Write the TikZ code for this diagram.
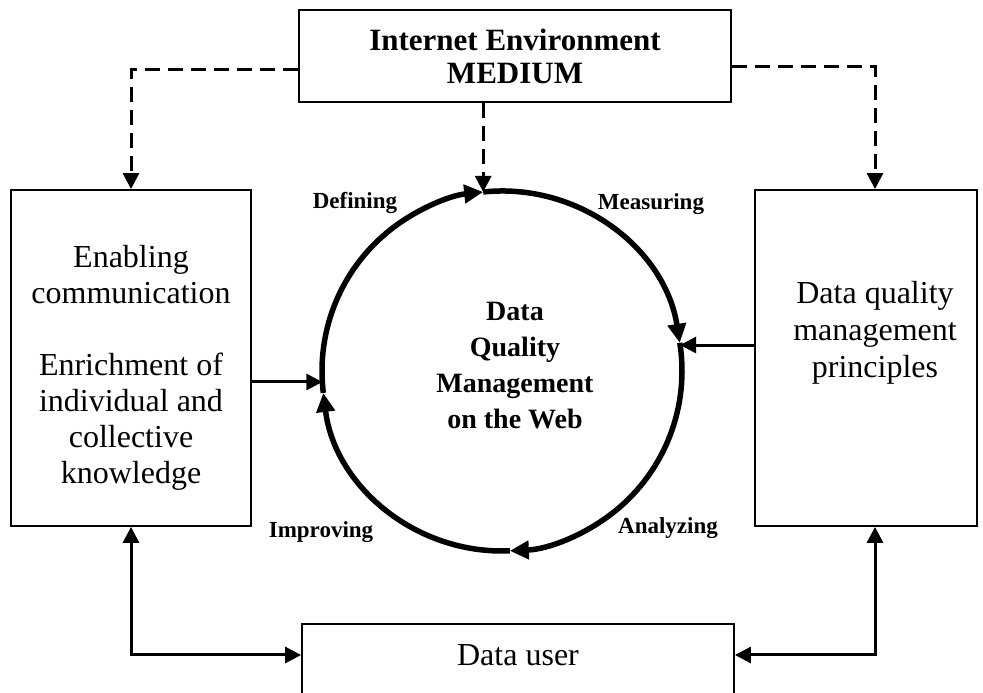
\documentclass[tikz,border=0pt]{standalone}
\usepackage{fontspec}
\setmainfont{Liberation Serif}
\usetikzlibrary{arrows.meta}
\tikzstyle{block}=[draw, line width=1.8pt, inner sep=0pt]
\tikzstyle{body text}=[align=center, font=\fontsize{32}{36}\selectfont]
\tikzstyle{stage label}=[font=\bfseries\fontsize{23}{26}\selectfont]
\tikzstyle{feed}=[line width=3pt, -{Triangle[length=16pt, width=16pt]}]
\tikzstyle{medium feed}=[feed, dash pattern=on 15pt off 8pt]
\tikzstyle{both feed}=[line width=3pt, {Triangle[length=16pt, width=16pt]}-{Triangle[length=16pt, width=16pt]}]
\tikzstyle{cycle arc}=[line width=5.5pt, -{Triangle[length=19pt, width=18pt]}]

\begin{document}
\begin{tikzpicture}[x=1pt, y=1pt]
      \useasboundingbox (0,0) rectangle (983,693);
      \clip (0,0) rectangle (983,693);
      % boxes
      \node[block, minimum width=432pt, minimum height=92pt, align=center,
        font=\bfseries\fontsize{31}{33}\selectfont] (medium) at (515,637)
        {Internet Environment\\MEDIUM};
      \node[block, minimum width=240pt, minimum height=336pt] (enable) at (131,335) {};
      \node[body text] (enableText) at (131,325)
        {Enabling\\communication\\[36pt]Enrichment of\\individual and\\collective\\knowledge};
      \node[block, minimum width=222pt, minimum height=336pt] (principle) at (866,335) {};
      \node[body text, font=\fontsize{32}{37}\selectfont] (principleText) at (875,360)
        {Data quality\\management\\principles};
      \node[block, minimum width=432pt, minimum height=100pt, anchor=north] (user) at (518,70) {};
      \node[body text] (userText) at (518,38) {Data user};
      % cycle
      \coordinate (hub) at (502,322);
      \node[align=center, font=\bfseries\fontsize{28}{36}\selectfont] (core) at (515,327)
        {Data\\Quality\\Management\\on the Web};
      \foreach \a/\b in {187/96, 96/9, 9/-87.5, -87.5/-173}
        \draw[cycle arc] ([shift={(\a:180)}]hub) arc[start angle=\a, end angle=\b, radius=180];
      \node[stage label] (defining) at (355,490) {Defining};
      \node[stage label] (measuring) at (651,489) {Measuring};
      \node[stage label] (improving) at (321,161) {Improving};
      \node[stage label] (analyzing) at (668,165) {Analyzing};
      % connectors
      \coordinate (topIn) at ([shift={(96:180)}]hub);
      \coordinate (leftIn) at ([shift={(183.5:180)}]hub);
      \coordinate (rightIn) at ([shift={(8.3:180)}]hub);
      \draw[medium feed] (medium.south -| topIn) -- (topIn);
      \draw[medium feed] ([yshift=-14pt]medium.west) -| (enable.north);
      \draw[medium feed] ([yshift=-11pt]medium.east) -| ([xshift=9pt]principle.north);
      \draw[feed] (enable.east |- leftIn) -- (leftIn);
      \draw[feed] (principle.west |- rightIn) -- (rightIn);
      \draw[both feed] (enable.south) |- (user.west |- userText);
      \draw[both feed] ([xshift=9pt]principle.south) |- (user.east |- userText);
    \end{tikzpicture}
\end{document}
